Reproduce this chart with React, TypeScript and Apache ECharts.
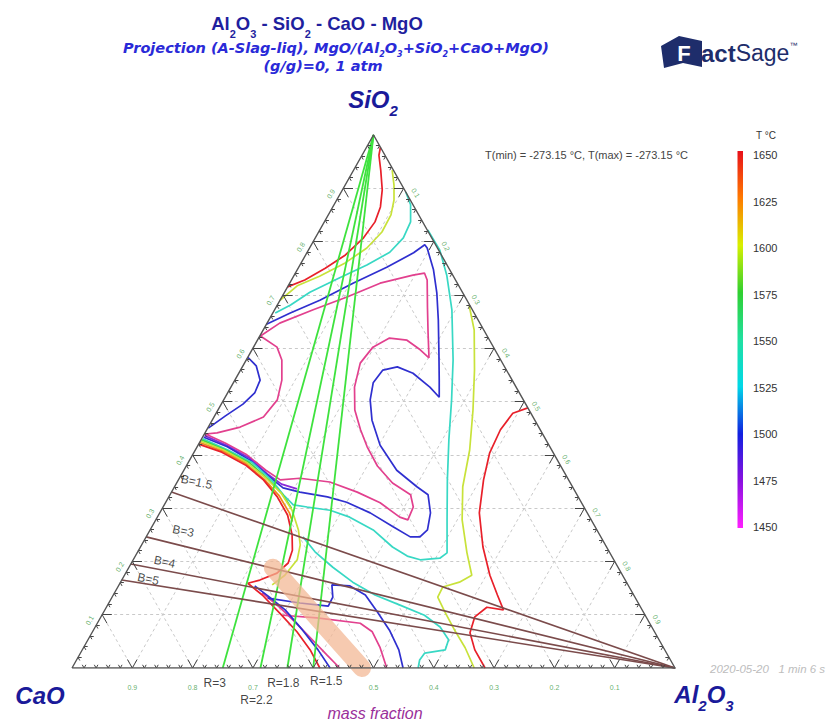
import { useEffect, useRef } from "react";
import * as echarts from "echarts";

type P = [number, number];

const FONT = "'Liberation Sans', Arial, sans-serif";
const WIDE = "'DejaVu Sans', Verdana, sans-serif";

// ---------- axes (mass fraction) ----------
const tickValues = [0.1, 0.2, 0.3, 0.4, 0.5, 0.6, 0.7, 0.8, 0.9];
const minorStep = 0.02;

// ---------- isotherms: points are [Al2O3, SiO2] mass fractions, CaO = remainder ----------
const iso1650Top: P[] = [[0.023,0.977],[0.028,0.962],[0.045,0.934],[0.066,0.897],[0.079,0.865],[0.084,0.837],[0.080,0.807],[0.066,0.775],[0.045,0.750],[0.022,0.728],[0,0.715]];
const iso1650Low: P[] = [[0,0.420],[0.046,0.405],[0.097,0.381],[0.141,0.353],[0.180,0.321],[0.214,0.287],[0.240,0.250],[0.255,0.221],[0.260,0.197],[0.251,0.178],[0.229,0.165],[0.212,0.159],[0.247,0.137],[0.293,0.103],[0.339,0.068],[0.378,0.034],[0.411,0]];
const iso1650Right: P[] = [[0.512,0.488],[0.492,0.478],[0.487,0.447],[0.491,0.403],[0.506,0.353],[0.530,0.291],[0.568,0.227],[0.606,0.174],[0.637,0.137],[0.661,0.109],[0.631,0.114],[0.620,0.096],[0.627,0.066],[0.651,0.034],[0.685,0]];
const iso1625Band: P[] = [[0,0.423],[0.046,0.407],[0.097,0.383],[0.142,0.354],[0.181,0.324],[0.215,0.291],[0.228,0.275]];
const iso1600Top: P[] = [[0.064,0.934],[0.081,0.906],[0.095,0.878],[0.104,0.850],[0.105,0.818],[0.095,0.788],[0.073,0.760],[0.043,0.735],[0.015,0.717],[0,0.690]];
const iso1600Low: P[] = [[0,0.426],[0.047,0.409],[0.098,0.385],[0.144,0.356],[0.183,0.328],[0.217,0.296],[0.246,0.259],[0.263,0.231],[0.272,0.203],[0.266,0.174],[0.254,0.156]];
const iso1600Right: P[] = [[0.318,0.681],[0.350,0.634],[0.388,0.559],[0.423,0.484],[0.455,0.409],[0.478,0.340],[0.508,0.278],[0.547,0.216],[0.576,0.174],[0.562,0.161],[0.539,0.152],[0.540,0.133],[0.566,0.105],[0.599,0.071],[0.633,0.038],[0.667,0]];
const iso1575Band: P[] = [[0.001,0.428],[0.050,0.409],[0.102,0.385],[0.150,0.353],[0.186,0.326],[0.214,0.300]];
const iso1525Top: P[] = [[0.107,0.893],[0.127,0.869],[0.143,0.837],[0.146,0.807],[0.137,0.780],[0.111,0.756],[0.078,0.732],[0.042,0.705],[0.022,0.681],[0.004,0.666]];
const iso1525Outer: P[] = [[0.179,0.822],[0.218,0.784],[0.253,0.737],[0.294,0.672],[0.343,0.578],[0.378,0.503],[0.411,0.428],[0.446,0.353],[0.483,0.278],[0.514,0.216],[0.507,0.206],[0.476,0.203],[0.451,0.210],[0.418,0.227],[0.370,0.259],[0.319,0.283],[0.280,0.296],[0.239,0.302],[0.214,0.306],[0.188,0.325],[0.157,0.351],[0.107,0.385],[0.054,0.409],[0.002,0.430]];
const iso1525Low: P[] = [[0.260,0.246],[0.294,0.218],[0.338,0.189],[0.385,0.161],[0.434,0.137],[0.485,0.118],[0.535,0.099],[0.572,0.077],[0.598,0.053],[0.602,0.034],[0.571,0.028],[0.569,0.015],[0.574,0]];
const iso1500Main: P[] = [[0,0.645],[0.029,0.666],[0.066,0.690],[0.105,0.722],[0.146,0.752],[0.177,0.779],[0.188,0.794],[0.195,0.788],[0.226,0.747],[0.253,0.704],[0.281,0.653],[0.313,0.591],[0.339,0.540],[0.355,0.508],[0.330,0.527],[0.289,0.553],[0.257,0.565],[0.236,0.559],[0.232,0.535],[0.243,0.503],[0.265,0.465],[0.302,0.418],[0.353,0.371],[0.402,0.340],[0.428,0.325],[0.449,0.291],[0.460,0.259],[0.454,0.246],[0.438,0.246],[0.400,0.265],[0.349,0.291],[0.300,0.311],[0.263,0.321],[0.213,0.330],[0.181,0.338],[0.149,0.358],[0.100,0.390],[0.050,0.415],[0.002,0.433]];
const iso1500Left: P[] = [[0,0.583],[0.022,0.567],[0.042,0.540],[0.045,0.516],[0.036,0.495],[0.018,0.473],[0.001,0.450]];
const iso1500Foot: P[] = [[0.226,0.154],[0.261,0.133],[0.299,0.109],[0.347,0.071],[0.391,0.034],[0.428,0]];
const iso1500Bump: P[] = [[0.259,0.131],[0.317,0.122],[0.367,0.116],[0.366,0.133],[0.353,0.156],[0.384,0.154],[0.418,0.137],[0.454,0.105],[0.491,0.071],[0.525,0.034],[0.549,0]];
const iso1475Band: P[] = [[0.002,0.436],[0.047,0.418],[0.095,0.395],[0.142,0.364],[0.175,0.345],[0.205,0.336]];
const iso1450Loop: P[] = [[0.002,0.439],[0.020,0.441],[0.053,0.452],[0.082,0.471],[0.089,0.503],[0.078,0.540],[0.059,0.578],[0.039,0.602],[0.001,0.623],[0.021,0.647],[0.064,0.672],[0.108,0.696],[0.150,0.722],[0.197,0.737],[0.214,0.741],[0.225,0.728],[0.251,0.677],[0.276,0.629],[0.301,0.582],[0.279,0.597],[0.248,0.615],[0.217,0.619],[0.198,0.602],[0.192,0.572],[0.205,0.527],[0.227,0.484],[0.255,0.447],[0.282,0.415],[0.317,0.379],[0.358,0.347],[0.399,0.325],[0.415,0.302],[0.418,0.278],[0.402,0.283],[0.356,0.310],[0.308,0.330],[0.253,0.349],[0.200,0.356],[0.169,0.353],[0.136,0.371],[0.090,0.400],[0.043,0.422],[0.002,0.439]];
const iso1450Foot: P[] = [[0.245,0.141],[0.289,0.113],[0.327,0.086],[0.372,0.053],[0.411,0.024],[0.444,0]];
const iso1450Hook: P[] = [[0.300,0.099],[0.359,0.094],[0.436,0.084],[0.464,0.068],[0.492,0.038],[0.522,0]];

// ---------- composition ratio lines ----------
const rRatios = [3, 2.2, 1.8, 1.5]; // CaO/Al2O3, lines from SiO2 corner
const rLabels = ["R=3", "R=2.2", "R=1.8", "R=1.5"];
const bLineSiO2 = [0.33, 0.246, 0.195, 0.165]; // left-edge SiO2 where each B line (from Al2O3 corner) ends
const bLabels = ["B=1.5", "B=3", "B=4", "B=5"];
const bLabelPos: P[] = [[0.032, 0.349], [0.056, 0.257], [0.054, 0.199], [0.043, 0.167]];
const mixBand: P[] = [[0.239, 0.188], [0.481, 0]];

// ---------- colour bar ----------
const tempMin = 1450;
const tempMax = 1650;
const tempStep = 25;

const RED = "#e8202a";
const ORANGE = "#f08a1a";
const YELLOW = "#c8e23a";
const GREEN = "#3cd84a";
const CYAN = "#38d8c4";
const BLUE = "#2f2fcf";
const PURPLE = "#8a2ad8";
const PINK = "#e2408e";

const isotherms: { color: string; parts: P[][] }[] = [
  { color: PINK, parts: [iso1450Loop, iso1450Foot, iso1450Hook] },
  { color: PURPLE, parts: [iso1475Band] },
  { color: BLUE, parts: [iso1500Main, iso1500Left, iso1500Foot, iso1500Bump] },
  { color: CYAN, parts: [iso1525Top, iso1525Outer, iso1525Low] },
  { color: GREEN, parts: [iso1575Band] },
  { color: YELLOW, parts: [iso1600Top, iso1600Low, iso1600Right] },
  { color: ORANGE, parts: [iso1625Band] },
  { color: RED, parts: [iso1650Top, iso1650Low, iso1650Right] },
];

const xy = (p: P): number[] => [p[0] + p[1] / 2, p[1]];

export default function App() {
  const ref = useRef<HTMLDivElement>(null);
  useEffect(() => {
    document.body.style.margin = "0";
    if (!ref.current) return;
    const chart = echarts.init(ref.current, undefined, { renderer: "svg" });

    const gridSegs: any[] = [];
    tickValues.forEach((v) => {
      gridSegs.push({ coords: [xy([0, v]), xy([1 - v, v])] });
      gridSegs.push({ coords: [xy([v, 0]), xy([v, 1 - v])] });
      gridSegs.push({ coords: [xy([1 - v, 0]), xy([0, 1 - v])] });
    });

    const tickSegs: any[] = [];
    const nMinor = Math.round(1 / minorStep);
    for (let i = 1; i < nMinor; i++) {
      const v = i * minorStep;
      const major = i % 5 === 0;
      const d = major ? 0.016 : 0.006;
      tickSegs.push({ coords: [xy([v, 0]), xy([v, d])] });
      tickSegs.push({ coords: [xy([v, 0]), xy([v - d, d])] });
      tickSegs.push({ coords: [xy([0, v]), xy([d, v])] });
      tickSegs.push({ coords: [xy([0, v]), xy([d, v - d])] });
      tickSegs.push({ coords: [xy([v, 1 - v]), xy([v - d, 1 - v])] });
      tickSegs.push({ coords: [xy([v, 1 - v]), xy([v, 1 - v - d])] });
    }

    const contourSeries: any[] = [];
    isotherms.forEach((iso) => {
      iso.parts.forEach((pts) => {
        contourSeries.push({
          type: "line",
          data: pts.map(xy),
          symbol: "none",
          showSymbol: false,
          silent: true,
          clip: false,
          z: 3,
          lineStyle: { color: iso.color, width: 1.7 },
        });
      });
    });

    const labelItem = (p: number[], text: string, extra: any) => ({
      value: p,
      label: { show: true, formatter: text, position: "inside", fontFamily: FONT, ...extra },
    });

    const axisLabelData: any[] = [];
    tickValues.forEach((v, i) => {
      // the CaO = 0.6 label sits under the "R=1.5" annotation in the reference
      if (i !== 3)
        axisLabelData.push(labelItem(xy([v, 0]), (1 - v).toFixed(1), { offset: [0, 19], color: "#3a9a44", fontSize: 7 }));
      axisLabelData.push(labelItem(xy([0, v]), v.toFixed(1), { offset: [-11, -8], rotate: 60, color: "#3a9a44", fontSize: 7 }));
      axisLabelData.push(labelItem(xy([v, 1 - v]), v.toFixed(1), { offset: [10, -8], rotate: -60, color: "#3a9a44", fontSize: 7 }));
    });
    const rOffsets = [[-8, 15], [-4, 32], [-4, 15], [13, 13]];
    rRatios.forEach((r, i) => {
      axisLabelData.push(labelItem(xy([1 / (1 + r), 0]), rLabels[i], { offset: rOffsets[i], color: "#111", fontSize: 12 }));
    });
    bLabels.forEach((t, i) => {
      axisLabelData.push(labelItem(xy(bLabelPos[i]), t, { rotate: -12, color: "#1a1a1a", fontSize: 12 }));
    });

    const txt = (x: number, y: number, text: string, style: any, rich?: any) => ({
      type: "text",
      x,
      y,
      silent: true,
      z: 20,
      style: {
        text,
        fontFamily: FONT,
        align: "center",
        textAlign: "center",
        verticalAlign: "middle",
        textVerticalAlign: "middle",
        ...style,
        ...(rich ? { rich } : {}),
      },
    });

    const titleRich = {
      s: { fontSize: 11, fontWeight: "bold", fontFamily: FONT, fill: "#1f1f9e", verticalAlign: "bottom", lineHeight: 13, padding: [0, 0, -5, 0] },
    };
    const subRich = {
      s: { fontSize: 8, fontWeight: "bold", fontStyle: "italic", fontFamily: WIDE, fill: "#2a2ad8", verticalAlign: "bottom", lineHeight: 9, padding: [0, 0, -2, 0] },
    };
    const bigRich = {
      s: { fontSize: 15, fontWeight: "bold", fontStyle: "italic", fontFamily: FONT, fill: "#1a1a9a", verticalAlign: "bottom", lineHeight: 18, padding: [0, 0, -6, 0] },
    };

    const graphic: any[] = [
      txt(317, 23, "Al{s|2}O{s|3} - SiO{s|2} - CaO - MgO", { fontSize: 18.5, fontWeight: "bold", fill: "#1f1f9e", lineHeight: 22 }, titleRich),
      txt(336, 48, "Projection (A-Slag-liq), MgO/(Al{s|2}O{s|3}+SiO{s|2}+CaO+MgO)", { fontSize: 14.5, fontWeight: "bold", fontStyle: "italic", fontFamily: WIDE, fill: "#2a2ad8", lineHeight: 16 }, subRich),
      txt(323, 66, "(g/g)=0, 1 atm", { fontSize: 14.5, fontWeight: "bold", fontStyle: "italic", fontFamily: WIDE, fill: "#2a2ad8" }),
      txt(373, 99, "SiO{s|2}", { fontSize: 24, fontWeight: "bold", fontStyle: "italic", fill: "#1a1a9a", lineHeight: 26 }, bigRich),
      txt(40, 695, "CaO", { fontSize: 24, fontWeight: "bold", fontStyle: "italic", fill: "#1a1a9a" }),
      txt(704, 694, "Al{s|2}O{s|3}", { fontSize: 24, fontWeight: "bold", fontStyle: "italic", fill: "#1a1a9a", lineHeight: 26 }, bigRich),
      txt(375, 713, "mass fraction", { fontSize: 16, fontStyle: "italic", fill: "#9a2f9a" }),
      txt(485, 155, "T(min) = -273.15 °C, T(max) = -273.15 °C", { fontSize: 11, fill: "#444", align: "left", textAlign: "left" }),
      txt(766, 135, "T °C", { fontSize: 10, fill: "#333" }),
      txt(710, 669, "2020-05-20   1 min 6 s", { fontSize: 11.5, fontStyle: "italic", fill: "#bdbdbd", align: "left", textAlign: "left" }),
      {
        type: "rect",
        silent: true,
        z: 10,
        shape: { x: 737.5, y: 151, width: 5.5, height: 377 },
        style: {
          fill: new echarts.graphic.LinearGradient(0, 0, 0, 1, [
            { offset: 0, color: "#e8101a" },
            { offset: 0.125, color: "#ff7a00" },
            { offset: 0.25, color: "#d8f000" },
            { offset: 0.375, color: "#30d030" },
            { offset: 0.5, color: "#20e0a0" },
            { offset: 0.625, color: "#00d8e8" },
            { offset: 0.75, color: "#1020e0" },
            { offset: 0.875, color: "#8a10e0" },
            { offset: 1, color: "#ff20ff" },
          ]),
        },
      },
      {
        type: "polygon",
        silent: true,
        z: 20,
        shape: { points: [[661, 46], [679, 36], [702, 41], [702, 67], [683, 63], [664, 68]] },
        style: { fill: "#1e2d6b" },
      },
      txt(684, 53, "F", { fontSize: 22, fontWeight: "bold", fill: "#ffffff" }),
      {
        type: "text",
        x: 701,
        y: 53,
        silent: true,
        z: 20,
        style: {
          text: "{a|act}{b|Sage}{c|™}",
          align: "left",
          textAlign: "left",
          verticalAlign: "middle",
          textVerticalAlign: "middle",
          rich: {
            a: { fontSize: 24, fontWeight: "bold", fontFamily: FONT, fill: "#1e2d6b" },
            b: { fontSize: 23, fontFamily: "'Liberation Sans Narrow', 'Liberation Sans', sans-serif", fill: "#1e2d6b" },
            c: { fontSize: 8, fontFamily: FONT, fill: "#1e2d6b", verticalAlign: "top", padding: [0, 0, 12, 0] },
          },
        },
      },
    ];

    const option: any = {
      animation: false,
      backgroundColor: "#ffffff",
      grid: [
        { left: 72, top: 135, width: 603, height: 533 },
        { left: 740, top: 155, width: 2, height: 372 },
      ],
      xAxis: [
        { type: "value", min: 0, max: 1, show: false, gridIndex: 0 },
        { type: "value", min: 0, max: 1, show: false, gridIndex: 1 },
      ],
      yAxis: [
        { type: "value", min: 0, max: 1, show: false, gridIndex: 0 },
        {
          type: "value",
          gridIndex: 1,
          min: tempMin,
          max: tempMax,
          interval: tempStep,
          position: "right",
          axisLine: { show: false },
          axisTick: { show: false },
          splitLine: { show: false },
          axisLabel: { color: "#333", fontSize: 11, fontFamily: FONT, margin: 11, formatter: (v: number) => String(v) },
        },
      ],
      graphic,
      series: [
        {
          type: "lines",
          coordinateSystem: "cartesian2d",
          silent: true,
          z: 1,
          lineStyle: { color: "#c9c9c9", width: 1, type: [3, 3], opacity: 1 },
          data: gridSegs,
        },
        ...contourSeries,
        {
          type: "lines",
          coordinateSystem: "cartesian2d",
          silent: true,
          z: 4,
          lineStyle: { color: "#3ee23e", width: 1.8, opacity: 1 },
          data: rRatios.map((r) => ({ coords: [xy([0, 1]), xy([1 / (1 + r), 0])] })),
        },
        {
          type: "lines",
          coordinateSystem: "cartesian2d",
          silent: true,
          z: 4,
          lineStyle: { color: "#7b4b4b", width: 1.6, opacity: 1 },
          data: bLineSiO2.map((s) => ({ coords: [xy([1, 0]), xy([0, s])] })),
        },
        {
          type: "line",
          data: mixBand.map(xy),
          symbol: "none",
          showSymbol: false,
          silent: true,
          clip: false,
          z: 5,
          lineStyle: { color: "#f2b692", width: 18, opacity: 0.72, cap: "round" },
        },
        {
          type: "lines",
          coordinateSystem: "cartesian2d",
          silent: true,
          z: 6,
          lineStyle: { color: "#444", width: 1, opacity: 1 },
          data: tickSegs,
        },
        {
          type: "lines",
          coordinateSystem: "cartesian2d",
          polyline: true,
          silent: true,
          z: 6,
          lineStyle: { color: "#555", width: 1.4, opacity: 1 },
          data: [{ coords: [xy([0, 0]), xy([1, 0]), xy([0, 1]), xy([0, 0])] }],
        },
        {
          type: "scatter",
          symbolSize: 1,
          silent: true,
          clip: false,
          z: 8,
          itemStyle: { color: "rgba(0,0,0,0)" },
          data: axisLabelData,
        },
      ],
    };
    chart.setOption(option);
    return () => chart.dispose();
  }, []);
  return <div ref={ref} style={{ width: 827, height: 720 }} />;
}
